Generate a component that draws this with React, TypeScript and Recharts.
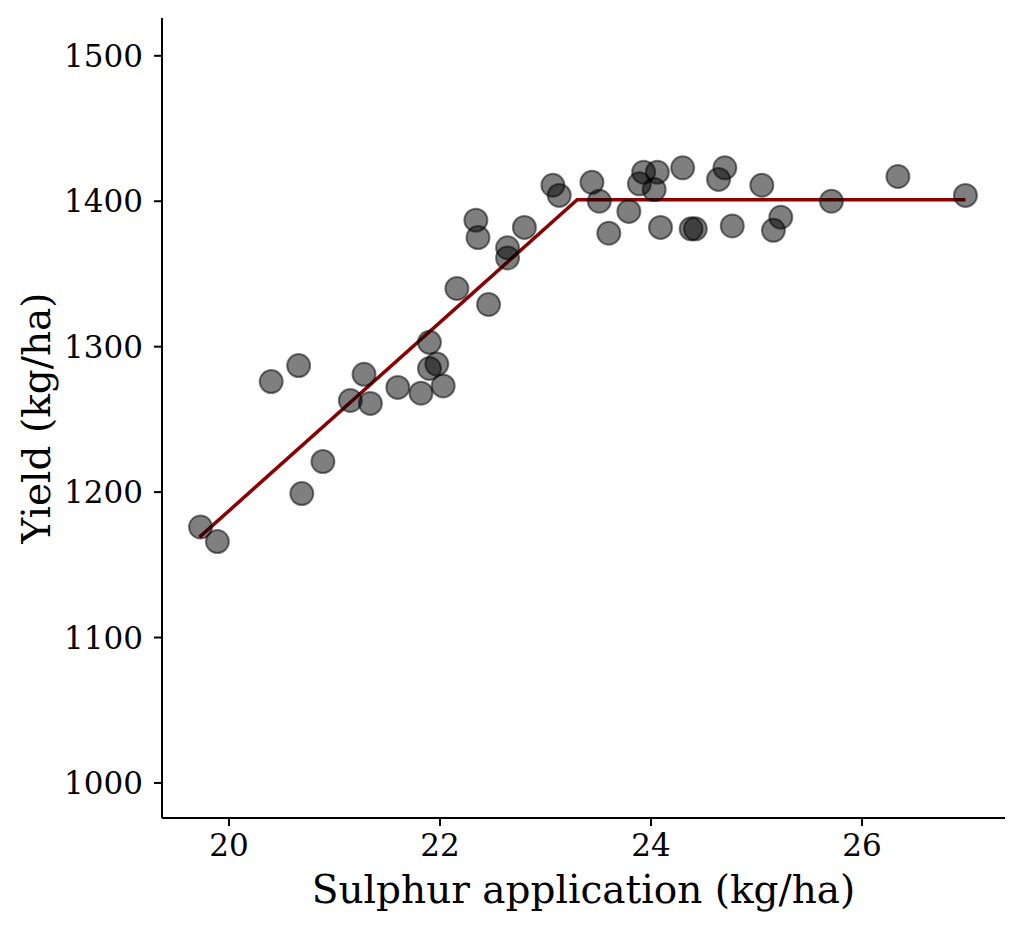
import { ComposedChart, Scatter, Line, XAxis, YAxis, Label } from "recharts";

const sulphur = [
  19.73, 19.89, 20.4, 20.66, 20.69, 20.89, 21.15, 21.28, 21.34, 21.6, 21.82,
  21.9, 21.9, 21.97, 22.03, 22.16, 22.34, 22.36, 22.46, 22.64, 22.64, 22.8,
  23.07, 23.13, 23.44, 23.51, 23.6, 23.79, 23.89, 23.93, 24.03, 24.06, 24.09,
  24.3, 24.38, 24.42, 24.64, 24.7, 24.77, 25.05, 25.16, 25.23, 25.71, 26.34,
  26.98,
];

const yieldValues = [
  1176, 1166, 1276, 1287, 1199, 1221, 1263, 1281, 1261, 1272, 1268, 1303,
  1285, 1288, 1273, 1340, 1387, 1375, 1329, 1368, 1361, 1382, 1411, 1404,
  1413, 1400, 1378, 1393, 1412, 1420, 1408, 1420, 1382, 1423, 1381, 1381,
  1415, 1423, 1383, 1411, 1380, 1389, 1400, 1417, 1404,
];

// linear-plateau fit: start, join point, end
const fitX = [19.72, 23.3, 26.98];
const fitY = [1169, 1401, 1401];

const xTicks = [20, 22, 24, 26];
const yTicks = [1000, 1100, 1200, 1300, 1400, 1500];

const points = sulphur.map((x, i) => ({ x, y: yieldValues[i] }));
const fit = fitX.map((x, i) => ({ x, y: fitY[i] }));

const font = "DejaVu Serif";

const Dot = (props: any) => (
  <circle
    cx={props.cx}
    cy={props.cy}
    r={11.5}
    fill="#000"
    fillOpacity={0.5}
    stroke="#000"
    strokeOpacity={0.5}
    strokeWidth={2}
  />
);

export default function App() {
  return (
    <div style={{ position: "absolute", left: 0, top: 0, background: "#fff" }}>
      <ComposedChart
        width={1024}
        height={931}
        margin={{ top: 18, right: 19, left: 0, bottom: 0 }}
      >
        <XAxis
          type="number"
          dataKey="x"
          domain={[19.365, 27.355]}
          ticks={xTicks}
          allowDataOverflow
          height={113}
          stroke="#000"
          strokeWidth={2}
          tickSize={8}
          tickMargin={8}
          tickLine={{ stroke: "#000", strokeWidth: 2 }}
          tick={{ fill: "#000", fontSize: 31, fontFamily: font }}
        >
          <Label
            content={({ viewBox }: any) => (
              <text
                x={viewBox.x + viewBox.width / 2}
                y={903}
                textAnchor="middle"
                fontSize={39}
                fontFamily={font}
                fill="#000"
              >
                Sulphur application (kg/ha)
              </text>
            )}
          />
        </XAxis>
        <YAxis
          type="number"
          dataKey="y"
          domain={[975.9, 1526]}
          ticks={yTicks}
          allowDataOverflow
          width={162}
          stroke="#000"
          strokeWidth={2}
          tickSize={8}
          tickMargin={11}
          tickLine={{ stroke: "#000", strokeWidth: 2 }}
          tick={{ fill: "#000", fontSize: 31, fontFamily: font }}
        >
          <Label
            content={({ viewBox }: any) => {
              const cy = viewBox.y + viewBox.height / 2;
              return (
                <text
                  x={36}
                  y={cy}
                  transform={`rotate(-90 36 ${cy})`}
                  textAnchor="middle"
                  dominantBaseline="central"
                  fontSize={39}
                  fontFamily={font}
                  fill="#000"
                >
                  Yield (kg/ha)
                </text>
              );
            }}
          />
        </YAxis>
        <Scatter
          data={points}
          dataKey="y"
          shape={Dot}
          isAnimationActive={false}
        />
        <Line
          data={fit}
          dataKey="y"
          type="linear"
          stroke="#8b0000"
          strokeWidth={3.5}
          dot={false}
          activeDot={false}
          isAnimationActive={false}
        />
      </ComposedChart>
    </div>
  );
}
